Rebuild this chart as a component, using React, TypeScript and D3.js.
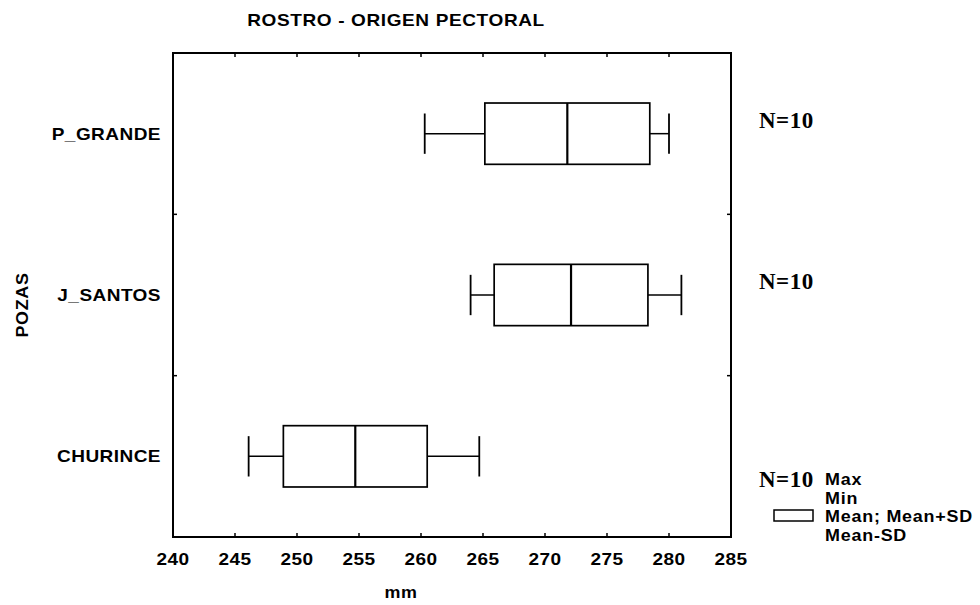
import React from 'react';
import * as d3 from 'd3';

// box plot values (mm)
const categories = ['P_GRANDE', 'J_SANTOS', 'CHURINCE'];
const means = [271.8, 272.1, 254.7];
const sds = [6.65, 6.2, 5.8];
const mins = [260.3, 264.0, 246.1];
const maxs = [280.0, 281.0, 264.7];
const counts = [10, 10, 10];
const xTicks = [240, 245, 250, 255, 260, 265, 270, 275, 280, 285];

const title = 'ROSTRO - ORIGEN PECTORAL';
const xTitle = 'mm';
const yTitle = 'POZAS';
const legendLabels = ['Max', 'Min', 'Mean; Mean+SD', 'Mean-SD'];

const width = 980;
const height = 605;
const margin = { top: 53, right: 249, bottom: 68, left: 173 };

const sans = '"Liberation Sans", Arial, sans-serif';
const serif = '"Liberation Serif", "Times New Roman", serif';

// the scanned original has wide glyphs, so text is stretched a little horizontally
const STRETCH = 1.12;

interface WideTextProps {
  x: number;
  y: number;
  anchor?: 'start' | 'middle' | 'end';
  size?: number;
  spacing?: number;
  rotate?: number;
  children: React.ReactNode;
}

const WideText: React.FC<WideTextProps> = ({ x, y, anchor = 'start', size = 17, spacing = 0.4, rotate = 0, children }) => (
  <text
    transform={`translate(${x},${y})${rotate ? ` rotate(${rotate})` : ''} scale(${STRETCH},1)`}
    textAnchor={anchor}
    fill="#000"
    style={{ fontFamily: sans, fontWeight: 700, fontSize: size, letterSpacing: `${spacing}px` }}
  >
    {children}
  </text>
);

const App: React.FC = () => {
  const x = d3
    .scaleLinear()
    .domain([240, 285])
    .range([margin.left, width - margin.right]);

  const y = d3
    .scaleBand<string>()
    .domain(categories)
    .range([margin.top, height - margin.bottom])
    .padding(0);

  const bw = y.bandwidth();
  const boxH = bw * 0.38;
  const capH = bw * 0.25;
  const x0 = margin.left;
  const x1 = width - margin.right;
  const y0 = margin.top;
  const y1 = height - margin.bottom;

  // legend block sits next to the last N label
  const legendX = 774;
  const legendTop = 479;
  const legendStep = 18.5;

  return (
    <svg
      width={width}
      height={height}
      style={{ position: 'absolute', left: 0, top: 0, background: '#fff' }}
    >
      {/* title */}
      <WideText x={396} y={26} anchor="middle" spacing={0.55}>
        {title}
      </WideText>

      {/* frame */}
      <rect x={x0} y={y0} width={x1 - x0} height={y1 - y0} fill="none" stroke="#000" strokeWidth={2} />

      {/* x ticks, inward on bottom and top */}
      {xTicks.map(t => (
        <g key={t}>
          <line x1={x(t)} x2={x(t)} y1={y1} y2={y1 - 4} stroke="#000" strokeWidth={1.5} />
          <line x1={x(t)} x2={x(t)} y1={y0} y2={y0 + 4} stroke="#000" strokeWidth={1.5} />
          <WideText x={x(t)} y={565} anchor="middle">
            {t}
          </WideText>
        </g>
      ))}

      {/* band boundary ticks on the sides */}
      {categories.slice(1).map(c => (
        <g key={'b' + c}>
          <line x1={x0} x2={x0 + 4} y1={y(c)!} y2={y(c)!} stroke="#000" strokeWidth={1.5} />
          <line x1={x1} x2={x1 - 4} y1={y(c)!} y2={y(c)!} stroke="#000" strokeWidth={1.5} />
        </g>
      ))}

      {/* category labels */}
      {categories.map(c => (
        <WideText key={'l' + c} x={x0 - 12} y={y(c)! + bw / 2 + 6} anchor="end">
          {c}
        </WideText>
      ))}

      {/* boxes */}
      {categories.map((c, i) => {
        const cy = y(c)! + bw / 2;
        const lo = x(means[i] - sds[i]);
        const hi = x(means[i] + sds[i]);
        return (
          <g key={'box' + c} stroke="#000" fill="none">
            <line x1={x(mins[i])} x2={lo} y1={cy} y2={cy} strokeWidth={1.5} />
            <line x1={hi} x2={x(maxs[i])} y1={cy} y2={cy} strokeWidth={1.5} />
            <line x1={x(mins[i])} x2={x(mins[i])} y1={cy - capH / 2} y2={cy + capH / 2} strokeWidth={1.8} />
            <line x1={x(maxs[i])} x2={x(maxs[i])} y1={cy - capH / 2} y2={cy + capH / 2} strokeWidth={1.8} />
            <rect x={lo} y={cy - boxH / 2} width={hi - lo} height={boxH} fill="#fff" strokeWidth={1.7} />
            <line x1={x(means[i])} x2={x(means[i])} y1={cy - boxH / 2} y2={cy + boxH / 2} strokeWidth={2.2} />
          </g>
        );
      })}

      {/* N labels */}
      {categories.map((c, i) => {
        const ny = i === categories.length - 1 ? legendTop + 8 : y(c)! + bw / 2 - 14 + 8;
        return (
          <text
            key={'n' + c}
            x={759}
            y={ny}
            style={{ fontFamily: serif, fontWeight: 700, fontSize: 23, letterSpacing: '0.5px' }}
            fill="#000"
          >
            {`N=${counts[i]}`}
          </text>
        );
      })}

      {/* legend */}
      <rect
        x={legendX}
        y={legendTop + legendStep * 2 - 6}
        width={39}
        height={11}
        fill="#fff"
        stroke="#000"
        strokeWidth={1.5}
      />
      {legendLabels.map((l, i) => (
        <WideText key={'lg' + l} x={825} y={legendTop + legendStep * i + 6} size={16} spacing={0.7}>
          {l}
        </WideText>
      ))}

      {/* axis titles */}
      <WideText x={401} y={598} anchor="middle" size={16} spacing={0.6}>
        {xTitle}
      </WideText>
      <text
        transform={`translate(28, ${305}) rotate(-90) scale(${STRETCH},1)`}
        textAnchor="middle"
        fill="#000"
        style={{ fontFamily: sans, fontWeight: 700, fontSize: 16, letterSpacing: '0.6px' }}
      >
        {yTitle}
      </text>
    </svg>
  );
};

export default App;
